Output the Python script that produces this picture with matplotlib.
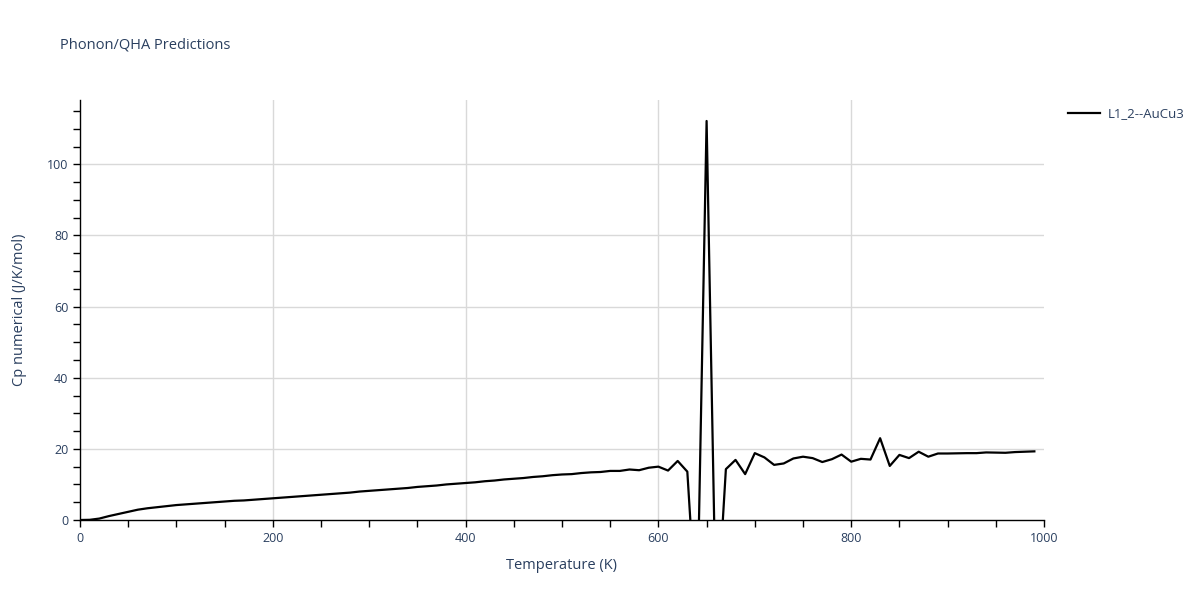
import matplotlib
matplotlib.use("Agg")
import matplotlib.pyplot as plt
from matplotlib.ticker import MultipleLocator

# Température (K), pas de 10 K
temperature = list(range(0, 1000, 10))

# Cp numérique (J/K/mol)
cp_numerical = [
    0.0, 0.05, 0.4, 1.1, 1.7, 2.3, 2.9, 3.3, 3.6, 3.9,
    4.2, 4.4, 4.6, 4.8, 5.0, 5.2, 5.4, 5.5, 5.7, 5.9,
    6.1, 6.3, 6.5, 6.7, 6.9, 7.1, 7.3, 7.5, 7.7, 8.0,
    8.2, 8.4, 8.6, 8.8, 9.0, 9.3, 9.5, 9.7, 10.0, 10.2,
    10.4, 10.6, 10.9, 11.1, 11.4, 11.6, 11.8, 12.1, 12.3, 12.6,
    12.8, 12.9, 13.2, 13.4, 13.5, 13.8, 13.8, 14.2, 14.0, 14.7,
    15.0, 13.9, 16.6, 13.6, -30.0, 112.2, -31.0, 14.3, 16.9, 12.9,
    18.8, 17.6, 15.5, 15.9, 17.3, 17.8, 17.4, 16.3, 17.1, 18.4,
    16.4, 17.2, 17.0, 23.0, 15.2, 18.3, 17.4, 19.2, 17.8, 18.7,
    18.7, 18.75, 18.8, 18.8, 19.0, 18.95, 18.9, 19.1, 19.2, 19.3,
]

series_name = "L1_2--AuCu3"

# lignes de grille (graduations principales à l'intérieur du cadre)
x_grid = [200, 400, 600, 800]
y_grid = [20, 40, 60, 80, 100]

text_color = "#2a3f5f"
grid_color = "#d9d9d9"

plt.rcParams["font.family"] = ["Open Sans", "DejaVu Sans"]

fig = plt.figure(figsize=(12, 6), dpi=100)
ax = fig.add_axes([80 / 1200, 80 / 600, (1044 - 80) / 1200, 420 / 600])

for xg in x_grid:
    ax.axvline(xg, color=grid_color, linewidth=1, zorder=0)
for yg in y_grid:
    ax.axhline(yg, color=grid_color, linewidth=1, zorder=0)

ax.plot(temperature, cp_numerical, color="black", linewidth=1.6, label=series_name,
        zorder=3)

ax.set_xlim(0, 1000)
ax.set_ylim(0, 118.1)

ax.xaxis.set_major_locator(MultipleLocator(200))
ax.xaxis.set_minor_locator(MultipleLocator(50))
ax.yaxis.set_major_locator(MultipleLocator(20))
ax.yaxis.set_minor_locator(MultipleLocator(5))

for side in ["top", "right"]:
    ax.spines[side].set_visible(False)
for side in ["left", "bottom"]:
    ax.spines[side].set_color("black")
    ax.spines[side].set_linewidth(1)

ax.tick_params(which="both", direction="out", length=5, width=1, color="black",
               labelcolor=text_color, labelsize=9)
ax.tick_params(axis="x", which="both", pad=4)

ax.set_xlabel("Temperature (K)", color=text_color, fontsize=10.5, labelpad=9)
ax.set_ylabel("Cp numerical (J/K/mol)", color=text_color, fontsize=10.5, labelpad=14)

fig.text(60 / 1200, 1 - 45 / 600, "Phonon/QHA Predictions", color=text_color,
         fontsize=10.5, va="center", ha="left")

fig.legend(loc="center left", bbox_to_anchor=(1064 / 1200, 1 - 114 / 600),
           frameon=False, handlelength=2.4, handletextpad=0.6,
           borderaxespad=0, borderpad=0.3, fontsize=9.5, labelcolor=text_color)

fig.savefig("out.png", dpi=100)
